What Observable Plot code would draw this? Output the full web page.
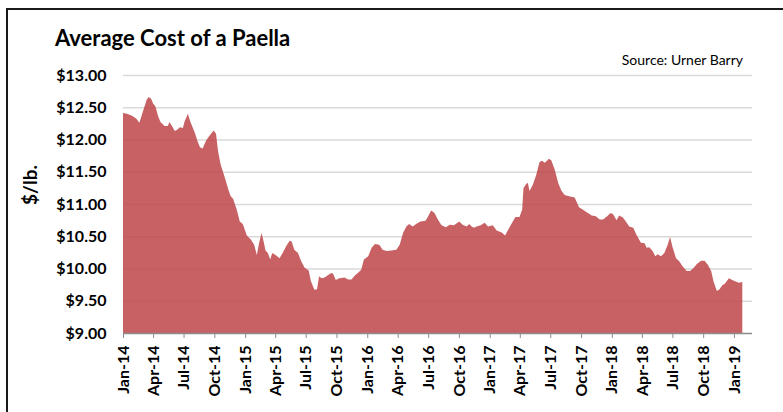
<!DOCTYPE html>
<html>
<head>
<meta charset="utf-8">
<script src="https://cdn.jsdelivr.net/npm/d3@7"></script>
<script src="https://cdn.jsdelivr.net/npm/@observablehq/plot@0.6"></script>
<style>
  html, body { margin: 0; padding: 0; background: #fff; }
  #wrap { position: relative; width: 783px; height: 412px; overflow: hidden; }
  #frame { position: absolute; left: 6px; top: 8px; width: 900px; height: 600px;
           border-top: 2px solid #1a1a1a; border-left: 2px solid #1a1a1a; box-sizing: border-box; }
  #chart { position: absolute; left: 0; top: 0; }
</style>
</head>
<body>
<div id="wrap"><div id="frame"></div><div id="chart"></div></div>
<script>
const titleText = "Average Cost of a Paella";
const sourceText = "Source: Urner Barry";
const yLabel = "$/lb.";

const dates = [
"2014-01-01","2014-01-13","2014-01-28","2014-02-10","2014-02-19","2014-03-02","2014-03-13","2014-03-19","2014-03-26","2014-04-01",
"2014-04-08","2014-04-16","2014-04-23","2014-05-05","2014-05-15","2014-05-20","2014-05-25","2014-06-05","2014-06-12","2014-06-20",
"2014-06-29","2014-07-04","2014-07-14","2014-07-21","2014-08-04","2014-08-12","2014-08-19","2014-08-27","2014-09-06","2014-09-18",
"2014-09-29","2014-10-06","2014-10-12","2014-10-20","2014-11-02","2014-11-12","2014-11-19","2014-11-26","2014-12-07","2014-12-16",
"2014-12-25","2015-01-06","2015-01-18","2015-01-28","2015-02-05","2015-02-12","2015-02-19","2015-02-24","2015-03-03","2015-03-10",
"2015-03-17","2015-03-23","2015-04-02","2015-04-14","2015-04-24","2015-05-04","2015-05-14","2015-05-20","2015-05-28","2015-06-08",
"2015-06-18","2015-06-28","2015-07-10","2015-07-17","2015-07-27","2015-08-04","2015-08-10","2015-08-17","2015-08-27","2015-09-06",
"2015-09-16","2015-09-21","2015-09-29","2015-10-10","2015-10-25","2015-11-05","2015-11-15","2015-11-25","2015-12-04","2015-12-14",
"2015-12-22","2016-01-04","2016-01-14","2016-01-24","2016-02-06","2016-02-16","2016-02-28","2016-03-13","2016-03-28","2016-04-07",
"2016-04-17","2016-04-27","2016-05-05","2016-05-16","2016-05-26","2016-06-08","2016-06-23","2016-06-30","2016-07-10","2016-07-20",
"2016-07-30","2016-08-10","2016-08-23","2016-09-04","2016-09-16","2016-10-02","2016-10-12","2016-10-24","2016-11-01","2016-11-08",
"2016-11-15","2016-11-23","2016-12-05","2016-12-17","2016-12-27","2017-01-10","2017-01-22","2017-02-06","2017-02-16","2017-02-26",
"2017-03-09","2017-03-19","2017-03-31","2017-04-08","2017-04-12","2017-04-20","2017-04-25","2017-04-30","2017-05-10","2017-05-20",
"2017-05-30","2017-06-07","2017-06-14","2017-06-19","2017-06-27","2017-07-04","2017-07-09","2017-07-14","2017-07-25","2017-08-03",
"2017-08-13","2017-08-26","2017-09-12","2017-09-25","2017-10-07","2017-10-19","2017-11-02","2017-11-14","2017-11-26","2017-12-06",
"2017-12-18","2017-12-28","2018-01-05","2018-01-15","2018-01-23","2018-02-03","2018-02-12","2018-02-22","2018-03-06","2018-03-16",
"2018-03-29","2018-04-09","2018-04-15","2018-04-23","2018-05-03","2018-05-11","2018-05-18","2018-05-28","2018-06-07","2018-06-17",
"2018-06-24","2018-07-02","2018-07-12","2018-07-22","2018-08-01","2018-08-13","2018-08-23","2018-09-03","2018-09-12","2018-09-25",
"2018-10-05","2018-10-15","2018-10-25","2018-11-01","2018-11-11","2018-11-19","2018-11-27","2018-12-04","2018-12-17","2018-12-27",
"2019-01-06","2019-01-16","2019-01-26"
];

const prices = [
12.41,12.40,12.37,12.32,12.26,12.44,12.62,12.66,12.63,12.56,
12.51,12.36,12.27,12.21,12.21,12.27,12.23,12.13,12.15,12.19,
12.18,12.28,12.40,12.28,12.10,11.97,11.88,11.86,11.98,12.07,
12.14,12.09,11.82,11.61,11.40,11.22,11.12,11.08,10.91,10.73,
10.69,10.51,10.45,10.37,10.21,10.40,10.55,10.45,10.28,10.24,
10.14,10.24,10.21,10.16,10.25,10.35,10.43,10.42,10.29,10.24,
10.11,10.01,9.97,9.80,9.67,9.68,9.88,9.85,9.86,9.90,
9.93,9.92,9.82,9.85,9.86,9.83,9.83,9.89,9.93,9.98,
10.14,10.19,10.32,10.38,10.37,10.29,10.27,10.28,10.29,10.37,
10.55,10.65,10.69,10.65,10.69,10.73,10.74,10.80,10.90,10.86,
10.76,10.67,10.64,10.68,10.67,10.73,10.68,10.65,10.69,10.65,
10.63,10.65,10.67,10.71,10.65,10.67,10.59,10.56,10.51,10.61,
10.71,10.80,10.80,10.91,11.25,11.31,11.33,11.20,11.30,11.45,
11.65,11.67,11.64,11.66,11.70,11.68,11.61,11.54,11.32,11.21,
11.14,11.12,11.10,10.95,10.91,10.87,10.82,10.81,10.76,10.76,
10.81,10.86,10.84,10.75,10.82,10.79,10.73,10.65,10.63,10.52,
10.40,10.39,10.32,10.33,10.27,10.19,10.22,10.19,10.24,10.37,
10.49,10.32,10.16,10.11,10.03,9.96,9.96,10.01,10.07,10.12,
10.12,10.06,9.96,9.80,9.65,9.68,9.74,9.76,9.85,9.82,
9.80,9.78,9.79
];

const yTicks = [9.0, 9.5, 10.0, 10.5, 11.0, 11.5, 12.0, 12.5, 13.0];
const xTickDates = [
"2014-01-01","2014-04-01","2014-07-01","2014-10-01",
"2015-01-01","2015-04-01","2015-07-01","2015-10-01",
"2016-01-01","2016-04-01","2016-07-01","2016-10-01",
"2017-01-01","2017-04-01","2017-07-01","2017-10-01",
"2018-01-01","2018-04-01","2018-07-01","2018-10-01",
"2019-01-01"
];
const xDomain = ["2014-01-01", "2019-02-24"];

const data = dates.map((d, i) => ({date: new Date(d), price: prices[i]}));
const xTicks = xTickDates.map(d => new Date(d));

const chart = Plot.plot({
  width: 783,
  height: 412,
  marginLeft: 123,
  marginRight: 31,
  marginTop: 75,
  marginBottom: 79,
  style: {fontFamily: "Lato, 'Open Sans', sans-serif", fontSize: "16px", fontWeight: "bold", color: "#000", background: "transparent"},
  x: {type: "utc", domain: xDomain.map(d => new Date(d))},
  y: {domain: [9, 13]},
  marks: [
    Plot.ruleY(yTicks.filter(t => t > 9), {stroke: "#d9d9d9", strokeWidth: 1.5}),
    Plot.areaY(data, {x: "date", y1: 9, y2: "price", fill: "rgb(190,69,73)", fillOpacity: 0.85}),
    Plot.ruleY([9], {stroke: "#8c8c8c", strokeWidth: 1.5}),
    Plot.axisY({ticks: yTicks, tickFormat: d => "$" + d.toFixed(2), tickSize: 0, tickPadding: 17, label: null, fill: "#000"}),
    Plot.axisX({ticks: xTicks, tickFormat: d3.utcFormat("%b-%y"), tickRotate: -90, tickSize: 5, tickPadding: 7,
                stroke: "#8c8c8c", fill: "#000", label: null})
  ]
});

document.getElementById("chart").appendChild(chart);

const svg = d3.select(chart);
svg.append("text").attr("x", 55).attr("y", 46).attr("text-anchor", "start")
  .attr("font-size", 22).attr("font-weight", "bold").attr("fill", "#000")
  .text(titleText);
svg.append("text").attr("x", 743).attr("y", 65).attr("text-anchor", "end")
  .attr("font-size", 14).attr("font-weight", "normal").attr("fill", "#000")
  .text(sourceText);
svg.append("text").attr("transform", "translate(37,185) rotate(-90)")
  .attr("text-anchor", "middle")
  .attr("font-size", 19).attr("font-weight", "bold").attr("fill", "#000")
  .text(yLabel);
</script>
</body>
</html>
